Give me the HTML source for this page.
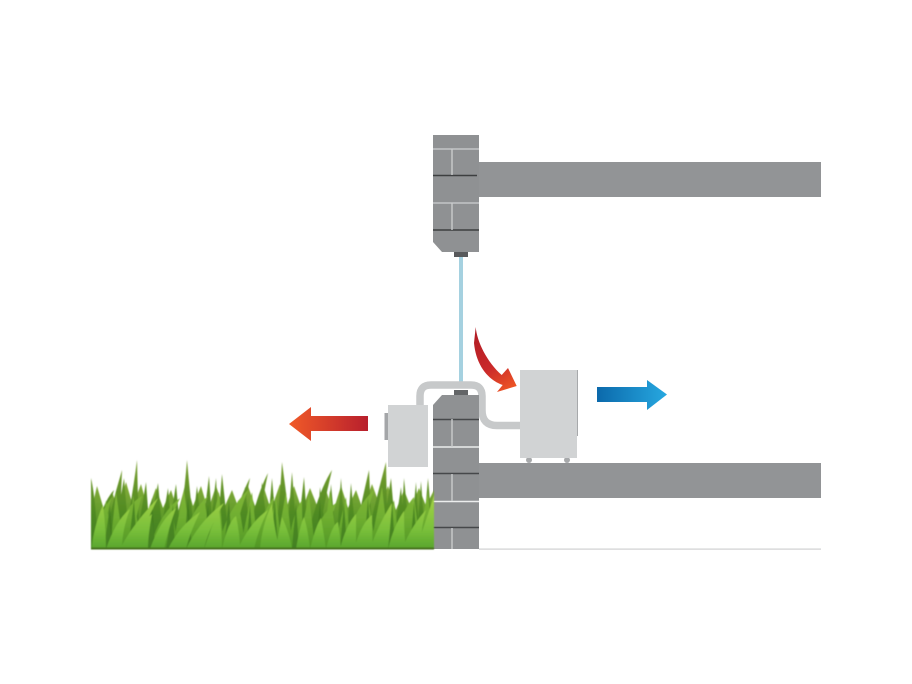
<!DOCTYPE html>
<html lang="en">
<head>
<meta charset="utf-8">
<title>Dehumidifier diagram</title>
<style>
html,body{margin:0;padding:0;background:#fff;width:912px;height:684px;overflow:hidden}
svg{display:block}
</style>
</head>
<body>
<svg width="912" height="684" viewBox="0 0 912 684" xmlns="http://www.w3.org/2000/svg">
<defs>
<linearGradient id="rl" x1="289" x2="368" y1="0" y2="0" gradientUnits="userSpaceOnUse"><stop offset="0" stop-color="#f05a28"/><stop offset="1" stop-color="#b81f2d"/></linearGradient>
<linearGradient id="bl" x1="597" x2="667" y1="0" y2="0" gradientUnits="userSpaceOnUse"><stop offset="0" stop-color="#0b69ab"/><stop offset="1" stop-color="#27a8e0"/></linearGradient>
<linearGradient id="rc" x1="476" y1="328" x2="516" y2="390" gradientUnits="userSpaceOnUse"><stop offset="0" stop-color="#b01c24"/><stop offset=".55" stop-color="#c9282a"/><stop offset="1" stop-color="#f15a24"/></linearGradient>
<linearGradient id="g0" x1="0" y1="482" x2="0" y2="549" gradientUnits="userSpaceOnUse"><stop offset="0" stop-color="#86ad3a"/><stop offset=".5" stop-color="#5f9a2a"/><stop offset="1" stop-color="#3f7f20"/></linearGradient>
<linearGradient id="g1" x1="0" y1="460" x2="0" y2="549" gradientUnits="userSpaceOnUse"><stop offset="0" stop-color="#7ba032"/><stop offset=".6" stop-color="#4f8a22"/><stop offset="1" stop-color="#3f7d1f"/></linearGradient>
<linearGradient id="g2" x1="0" y1="470" x2="0" y2="549" gradientUnits="userSpaceOnUse"><stop offset="0" stop-color="#8fbb3d"/><stop offset=".6" stop-color="#6fae30"/><stop offset="1" stop-color="#4f9626"/></linearGradient>
<linearGradient id="g3" x1="0" y1="495" x2="0" y2="549" gradientUnits="userSpaceOnUse"><stop offset="0" stop-color="#a6d348"/><stop offset=".65" stop-color="#79bf3a"/><stop offset="1" stop-color="#58a52d"/></linearGradient>
<filter id="s" x="-5%" y="-5%" width="110%" height="110%"><feGaussianBlur stdDeviation=".45"/></filter>
</defs>

<!-- upper wall and slab -->
<path d="M433 135H479V252H442L433 242Z" fill="#8f9193"/>
<rect x="479" y="162" width="342" height="35" fill="#929496"/>
<g stroke-width="1.4" fill="none">
<path d="M433 149H479M433 203H479" stroke="#c4c6c7"/>
<path d="M433 175.5H477M433 230H479" stroke="#3d3f40"/>
<path d="M452 149V175M452 203V230" stroke="#c9cbcc"/>
</g>
<rect x="454" y="252" width="14" height="5" fill="#58595b"/>
<rect x="459" y="257" width="4" height="125" fill="#a5d1e0"/>

<!-- pipe -->
<path d="M420 406V396Q420 385 431 385H471Q482 385 482 396V410Q482 425.500 497 425.500H521" fill="none" stroke="#c7c9ca" stroke-width="7.500"/>

<!-- lower wall and slab -->
<rect x="479" y="463" width="342" height="35" fill="#929496"/>
<path d="M433 405L442 395H479V549H433Z" fill="#8f9193"/>
<g stroke-width="1.4" fill="none">
<path d="M433 419.500H479M433 473.500H479M433 527.500H479" stroke="#46484a"/>
<path d="M433 447H479M433 501.500H479" stroke="#eceded"/>
<path d="M452 419V447M452 474V501M452 528V549" stroke="#c9cbcc"/>
</g>
<rect x="454" y="390" width="14" height="5" fill="#636567"/>
<rect x="479" y="548.500" width="342" height="1.200" fill="#cfd0d1"/>

<!-- outdoor unit -->
<rect x="384.500" y="413" width="4" height="27" fill="#a4a6a8"/>
<rect x="388" y="405" width="40" height="62" fill="#d1d3d4"/>

<!-- indoor unit -->
<circle cx="529" cy="460" r="3" fill="#a7a9ab"/>
<circle cx="567" cy="460" r="3" fill="#a7a9ab"/>
<rect x="575" y="370" width="3" height="66" fill="#a7a9ab"/>
<rect x="520" y="370" width="57" height="88" fill="#d1d3d4"/>

<!-- arrows -->
<path d="M475.700 327C477 342 487 362 501.700 375L508 368L516.700 386L497 392L502.700 385C488 380 476 365 474 343Z" fill="url(#rc)"/>
<path d="M289 424L311 407V416H368V431H311V441Z" fill="url(#rl)"/>
<path d="M597 387H647V380L667 394.500L647 410V402H597Z" fill="url(#bl)"/>

<!-- grass -->
<g filter="url(#s)">
<path fill="url(#g0)" d="M91 549V512L97 486L104 510L112 492L118 508L126 482L133 506L141 484L148 510L156 488L163 508L171 490L178 512L186 482L193 506L201 486L208 510L216 486L224 508L232 490L240 512L248 486L255 506L264 488L271 510L280 484L287 506L294 486L302 510L310 488L318 508L326 490L333 512L341 486L348 508L356 490L363 510L372 484L380 506L388 486L396 510L404 490L411 508L419 488L426 506L434 490V549Z"/>
<path fill="url(#g1)" d="M91 549L91 478Q96 500 98 549ZM92 549Q100 505 114 490Q106 515 104 549ZM103 549Q110 510 122 470Q120 510 122 549ZM112 549L124 478L130 549ZM122 549Q132 500 137 460Q138 505 140 549ZM135 549L146 482L151 549ZM146 549L158 483L164 549ZM158 549L168 488L173 549ZM166 549L176 484L182 549ZM176 549Q184 500 187 460Q191 505 196 549ZM190 549L197 486L204 549ZM200 549L209 476L214 549ZM208 549L216 478L220 549ZM216 549L222 474L230 549ZM226 549Q238 500 250 478Q242 515 240 549ZM236 549L245 487L252 549ZM246 549Q254 500 268 473Q259 515 258 549ZM256 549L262 482L270 549ZM266 549L272 478L278 549ZM274 549Q280 500 282 462Q288 505 292 549ZM286 549L292 472L298 549ZM296 549L304 477L309 549ZM305 549Q316 495 332 470Q322 510 318 549ZM316 549L320 487L328 549ZM326 549L331 484L337 549ZM336 549L341 478L346 549ZM346 549L351 483L357 549ZM352 549Q362 500 369 470Q371 510 372 549ZM364 549Q376 500 386 462Q387 510 388 549ZM380 549L391 478L397 549ZM392 549L401 487L406 549ZM400 549L404 478L411 549ZM410 549L416 482L420 549ZM416 549L421 481L426 549ZM422 549L428 478L434 549Z"/>
<path fill="url(#g2)" d="M91 549Q94 520 112 497Q104 522 104 549ZM100 549L106 500L113 549ZM110 549L116 492L124 549ZM118 549Q118 510 142 496Q134 520 133 549ZM130 549L133 495L142 549ZM142 549L150 504L156 549ZM150 549Q158 515 180 498Q168 522 166 549ZM160 549L171 502L178 549ZM172 549L184 490L192 549ZM184 549Q186 515 208 496Q198 520 198 549ZM194 549L204 497L212 549ZM206 549L219 492L224 549ZM218 549Q225 512 248 490Q236 520 234 549ZM230 549L238 500L246 549ZM240 549L252 492L258 549ZM252 549Q260 515 274 497Q270 525 268 549ZM264 549L276 498L282 549ZM276 549L286 492L293 549ZM288 549Q292 515 302 500Q302 525 304 549ZM298 549L309 494L315 549ZM310 549Q318 515 336 503Q328 525 326 549ZM322 549L330 490L338 549ZM334 549L346 497L351 549ZM346 549Q352 510 374 490Q364 520 362 549ZM358 549L368 497L376 549ZM370 549L382 487L389 549ZM382 549L394 500L400 549ZM394 549Q398 515 414 497Q408 525 408 549ZM404 549L414 497L421 549ZM416 549L428 492L433 549Z"/>
<path fill="#3f7a1f" opacity=".75" d="M104 549L110 505L113 549ZM128 549L134 500L137 549ZM146 549L152 498L155 549ZM166 549L173 505L175 549ZM184 549L188 497L192 549ZM203 549L208 505L211 549ZM224 549L229 500L232 549ZM246 549L250 505L253 549ZM270 549L275 500L278 549ZM292 549L296 503L299 549ZM316 549L320 500L323 549ZM340 549L344 503L347 549ZM364 549L368 498L371 549ZM388 549L392 500L395 549ZM410 549L414 503L417 549Z"/>
<path fill="url(#g3)" d="M92 549Q94 525 103 505Q106 530 106 549ZM106 549Q116 520 130 509Q122 530 122 549ZM120 549Q132 525 158 498Q142 530 136 549ZM132 549Q142 522 152 514Q148 535 148 549ZM150 549Q160 520 176 508Q168 530 164 549ZM168 549Q180 525 200 512Q190 532 186 549ZM186 549Q200 520 224 503Q208 530 204 549ZM204 549Q212 525 219 510Q222 532 222 549ZM222 549Q228 522 236 516Q240 535 240 549ZM238 549Q250 522 268 510Q258 530 254 549ZM260 549Q262 525 272 504Q274 530 280 549ZM276 549Q280 525 282 517Q290 535 292 549ZM296 549Q300 525 304 517Q308 530 310 549ZM310 549Q316 525 321 518Q324 535 326 549ZM326 549Q332 525 338 522Q340 535 341 549ZM340 549Q346 525 356 514Q356 535 356 549ZM354 549Q362 522 372 515Q372 535 373 549ZM370 549Q378 525 392 503Q390 530 388 549ZM388 549Q394 525 404 511Q404 535 406 549ZM402 549Q412 525 426 510Q420 530 422 549ZM416 549Q428 515 434 495L434 549Z"/>
<rect x="91" y="547.500" width="343" height="2" fill="#44701f"/>
</g>
</svg>
</body>
</html>
